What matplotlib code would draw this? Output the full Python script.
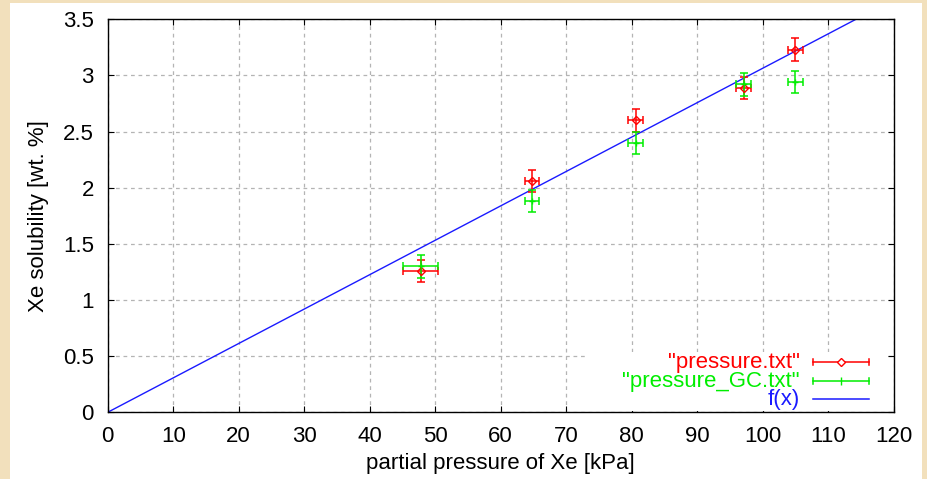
import numpy as np
import matplotlib
matplotlib.use('Agg')
import matplotlib.pyplot as plt
from matplotlib.patches import Rectangle
from matplotlib.lines import Line2D

plt.rcParams['font.family'] = ['Liberation Sans', 'DejaVu Sans']

# pressure.txt
p_red = [47.8, 64.8, 80.6, 97.1, 105.0]
s_red = [1.26, 2.06, 2.60, 2.89, 3.23]
px_red = [2.7, 1.1, 1.1, 1.1, 1.1]
sy_red = [0.1, 0.1, 0.1, 0.1, 0.1]

# pressure_GC.txt
p_gc = [47.8, 64.8, 80.6, 97.1, 105.0]
s_gc = [1.30, 1.88, 2.40, 2.92, 2.94]
px_gc = [2.7, 1.1, 1.1, 1.1, 1.1]
sy_gc = [0.1, 0.1, 0.1, 0.1, 0.1]

# f(x) = a*x
slope = 0.03064
xticks = list(range(0, 121, 10))
yticks = [0, 0.5, 1, 1.5, 2, 2.5, 3, 3.5]

RED = '#ff0000'
GREEN = '#00ee00'
BLUE = '#1a1aff'

fig = plt.figure(figsize=(9.28, 4.79), dpi=100)
fig.patch.set_facecolor('#f2e0bc')
fig.patches.append(Rectangle((10/928, 0), 912/928, 476/479, transform=fig.transFigure,
                             facecolor='white', edgecolor='none', zorder=-5))

ax = fig.add_axes([107.7/928, 1 - 412.3/479, 786/928, 393/479])
ax.set_facecolor('white')
ax.set_zorder(1)

xf = np.array([0, 120])
ax.plot(xf, slope * xf, color=BLUE, lw=1.0, zorder=3)

ax.errorbar(p_red, s_red, xerr=px_red, yerr=sy_red, fmt='D', ms=4, mfc='none', mec=RED,
            ecolor=RED, elinewidth=1.1, capsize=3, capthick=1.1, color=RED, zorder=4)
ax.errorbar(p_gc, s_gc, xerr=px_gc, yerr=sy_gc, fmt='+', ms=5, mec=GREEN,
            ecolor=GREEN, elinewidth=1.1, capsize=3, capthick=1.1, color=GREEN, zorder=4)

ax.set_xlim(0, 120)
ax.set_ylim(0, 3.5)
ax.set_xticks(xticks)
ax.set_yticks(yticks)
ax.set_yticklabels(['%g' % v for v in yticks])
ax.tick_params(direction='in', top=True, right=True, length=4, width=0.8,
               labelsize=16, pad=10)
ax.grid(True, color='#b4b4b4', linestyle=(0, (3, 3)), lw=0.9)
ax.set_axisbelow(False)
for sp in ax.spines.values():
    sp.set_linewidth(1.0)
    sp.set_zorder(8)

ax.set_xlabel('partial pressure of Xe [kPa]', fontsize=16, labelpad=4)
ax.set_ylabel('Xe solubility [wt. %]', fontsize=16, labelpad=10)

# opaque key box hides the grid behind the legend
ax_to_fig = ax.transAxes
fig.add_artist(Rectangle((588/928, 1 - 411/479), 298/928, 59/479, transform=fig.transFigure,
                         facecolor='white', edgecolor='none', zorder=5))

# legend (gnuplot style, text on the left, sample on the right)
labels = ['"pressure.txt"', '"pressure_GC.txt"', 'f(x)']
colors = [RED, GREEN, BLUE]
rows_y = [362.3, 381.0, 399.3]
x_txt = 800 / 928
x0, x1 = 813 / 928, 869 / 928
xm = (x0 + x1) / 2
for lab, c, yy in zip(labels, colors, rows_y):
    yf = 1 - yy / 479
    fig.text(x_txt, yf, lab, color=c, fontsize=16, ha='right', va='center', zorder=6)
    fig.add_artist(Line2D([x0, x1], [yf, yf], color=c, lw=1.1, transform=fig.transFigure,
                          zorder=6))
    if c != BLUE:
        for xe in (x0, x1):
            fig.add_artist(Line2D([xe, xe], [yf - 3/479, yf + 3/479], color=c, lw=1.1,
                                  transform=fig.transFigure, zorder=6))
legend_marks = [('D', RED), ('|', GREEN)]
for (m, c), yy in zip(legend_marks, rows_y):
    yf = 1 - yy / 479
    fig.add_artist(Line2D([xm], [yf], marker=m, ms=4 if m == 'D' else 6, mfc='white',
                          mec=c, color=c, transform=fig.transFigure, zorder=6))

fig.savefig('out.png', dpi=100, facecolor=fig.get_facecolor())
